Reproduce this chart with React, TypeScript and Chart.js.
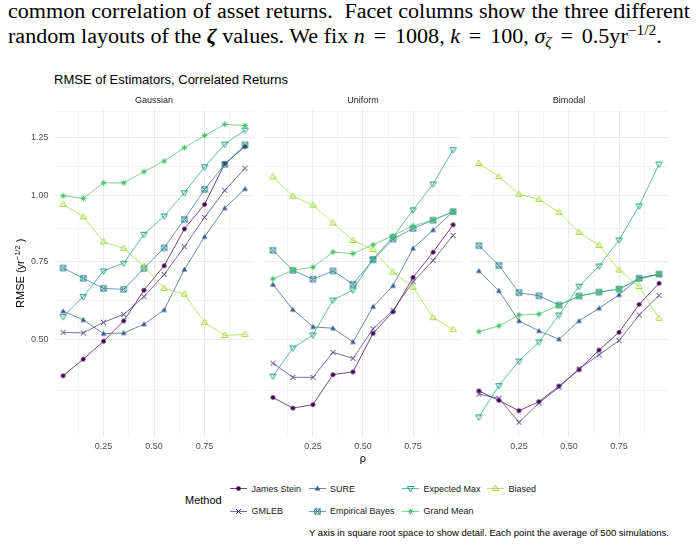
import React, { useEffect, useRef } from 'react';
import { Chart, registerables } from 'chart.js';

Chart.register(...registerables);

// ---------- data ----------
const RHO = [0.05, 0.15, 0.25, 0.35, 0.45, 0.55, 0.65, 0.75, 0.85, 0.95];
const FACETS = ['Gaussian', 'Uniform', 'Bimodal'];
const METHODS = ['James Stein', 'GMLEB', 'SURE', 'Empirical Bayes', 'Expected Max', 'Grand Mean', 'Biased'];
const METHOD_COLORS = ['#440154', '#46337E', '#365C8D', '#277F8E', '#1FA187', '#4AC16D', '#A0DA39'];
const METHOD_SHAPES = ['dot', 'x', 'triFill', 'boxX', 'triDown', 'asterisk', 'triUp'];

// Gaussian layout
const GAUSS_JAMES_STEIN = [0.401, 0.445, 0.495, 0.555, 0.652, 0.735, 0.869, 0.965, 1.135, 1.210];
const GAUSS_GMLEB = [0.521, 0.519, 0.551, 0.575, 0.631, 0.705, 0.803, 0.914, 1.022, 1.115];
const GAUSS_SURE = [0.585, 0.558, 0.517, 0.519, 0.545, 0.589, 0.722, 0.840, 0.950, 1.028];
const GAUSS_EMP_BAYES = [0.727, 0.692, 0.658, 0.655, 0.726, 0.799, 0.906, 1.026, 1.132, 1.218];
const GAUSS_EXP_MAX = [0.568, 0.631, 0.717, 0.744, 0.849, 0.919, 1.012, 1.121, 1.221, 1.285];
const GAUSS_GRAND_MEAN = [1.000, 0.989, 1.053, 1.053, 1.100, 1.146, 1.205, 1.260, 1.312, 1.306];
const GAUSS_BIASED = [0.965, 0.916, 0.821, 0.797, 0.733, 0.658, 0.639, 0.550, 0.512, 0.515];

// Uniform layout
const UNIF_JAMES_STEIN = [0.347, 0.322, 0.330, 0.404, 0.411, 0.518, 0.583, 0.695, 0.783, 0.885];
const UNIF_GMLEB = [0.434, 0.397, 0.397, 0.464, 0.447, 0.531, 0.588, 0.680, 0.754, 0.845];
const UNIF_SURE = [0.671, 0.590, 0.537, 0.533, 0.493, 0.599, 0.667, 0.797, 0.865, 0.936];
const UNIF_EMP_BAYES = [0.790, 0.719, 0.689, 0.717, 0.672, 0.756, 0.831, 0.871, 0.903, 0.936];
const UNIF_EXP_MAX = [0.400, 0.476, 0.513, 0.620, 0.653, 0.759, 0.839, 0.943, 1.048, 1.196];
const UNIF_GRAND_MEAN = [0.690, 0.719, 0.730, 0.784, 0.778, 0.810, 0.844, 0.881, 0.903, 0.936];
const UNIF_BIASED = [1.078, 0.998, 0.962, 0.892, 0.826, 0.793, 0.713, 0.662, 0.565, 0.529];

// Bimodal layout
const BIMO_JAMES_STEIN = [0.363, 0.340, 0.316, 0.337, 0.375, 0.417, 0.470, 0.521, 0.606, 0.675];
const BIMO_GMLEB = [0.355, 0.345, 0.290, 0.334, 0.372, 0.419, 0.457, 0.497, 0.573, 0.635];
const BIMO_SURE = [0.717, 0.650, 0.555, 0.525, 0.501, 0.555, 0.594, 0.637, 0.692, 0.706];
const BIMO_EMP_BAYES = [0.807, 0.736, 0.644, 0.634, 0.604, 0.633, 0.646, 0.656, 0.692, 0.706];
const BIMO_EXP_MAX = [0.302, 0.376, 0.440, 0.493, 0.573, 0.665, 0.734, 0.828, 0.959, 1.133];
const BIMO_GRAND_MEAN = [0.523, 0.540, 0.573, 0.576, 0.604, 0.633, 0.646, 0.656, 0.688, 0.706];
const BIMO_BIASED = [1.136, 1.079, 1.006, 0.985, 0.934, 0.856, 0.808, 0.720, 0.664, 0.563];

const FACET_VALUES = [
  [GAUSS_JAMES_STEIN, GAUSS_GMLEB, GAUSS_SURE, GAUSS_EMP_BAYES, GAUSS_EXP_MAX, GAUSS_GRAND_MEAN, GAUSS_BIASED],
  [UNIF_JAMES_STEIN, UNIF_GMLEB, UNIF_SURE, UNIF_EMP_BAYES, UNIF_EXP_MAX, UNIF_GRAND_MEAN, UNIF_BIASED],
  [BIMO_JAMES_STEIN, BIMO_GMLEB, BIMO_SURE, BIMO_EMP_BAYES, BIMO_EXP_MAX, BIMO_GRAND_MEAN, BIMO_BIASED],
];

// axis breaks
const X_BREAKS = [0.125, 0.25, 0.375, 0.5, 0.625, 0.75, 0.875];
const X_LABELS = ['', '0.25', '', '0.50', '', '0.75', ''];
const Y_MAJOR_BREAKS = [0.25, 0.5, 0.75, 1.0, 1.25, 1.5];

// ---------- scale helpers (y drawn in square-root space) ----------
const allSqrt = FACET_VALUES.flat(2).map(Math.sqrt);
const sLo = Math.min(...allSqrt);
const sHi = Math.max(...allSqrt);
const Y_MIN = sLo - (sHi - sLo) * 0.05;
const Y_MAX = sHi + (sHi - sLo) * 0.05;
const X_MIN = RHO[0] - (RHO[RHO.length - 1] - RHO[0]) * 0.05;
const X_MAX = RHO[RHO.length - 1] + (RHO[RHO.length - 1] - RHO[0]) * 0.05;

type YTick = { value: number; major: boolean; label: string };
const Y_TICKS: YTick[] = (() => {
  const majors = Y_MAJOR_BREAKS.map(Math.sqrt);
  const out: YTick[] = [];
  majors.forEach((m, i) => {
    out.push({ value: m, major: true, label: Y_MAJOR_BREAKS[i].toFixed(2) });
    if (i < majors.length - 1) out.push({ value: (m + majors[i + 1]) / 2, major: false, label: '' });
  });
  return out.filter((t) => t.value >= Y_MIN && t.value <= Y_MAX);
})();

const FONT = '"Liberation Sans", Arial, Helvetica, sans-serif';
const GRID = '#EBEBEB';

function withAlpha(hex: string, a: number) {
  const n = parseInt(hex.slice(1), 16);
  return `rgba(${(n >> 16) & 255},${(n >> 8) & 255},${n & 255},${a})`;
}

function makeMarker(shape: string, color: string): HTMLCanvasElement {
  const size = 11;
  const c = document.createElement('canvas');
  c.width = size;
  c.height = size;
  const g = c.getContext('2d')!;
  const m = size / 2;
  g.strokeStyle = color;
  g.fillStyle = color;
  g.lineWidth = 1;
  g.lineJoin = 'miter';
  const line = (x1: number, y1: number, x2: number, y2: number) => {
    g.beginPath();
    g.moveTo(x1, y1);
    g.lineTo(x2, y2);
    g.stroke();
  };
  if (shape === 'dot') {
    g.beginPath();
    g.arc(m, m, 2.3, 0, Math.PI * 2);
    g.fill();
  } else if (shape === 'x') {
    const r = 2.5;
    line(m - r, m - r, m + r, m + r);
    line(m - r, m + r, m + r, m - r);
  } else if (shape === 'triFill') {
    g.beginPath();
    g.moveTo(m, m - 3);
    g.lineTo(m + 2.8, m + 1.9);
    g.lineTo(m - 2.8, m + 1.9);
    g.closePath();
    g.fill();
  } else if (shape === 'boxX') {
    const r = 2.6;
    g.strokeRect(m - r, m - r, 2 * r, 2 * r);
    line(m - r, m - r, m + r, m + r);
    line(m - r, m + r, m + r, m - r);
  } else if (shape === 'triDown') {
    g.beginPath();
    g.moveTo(m - 3.2, m - 2);
    g.lineTo(m + 3.2, m - 2);
    g.lineTo(m, m + 3.4);
    g.closePath();
    g.stroke();
  } else if (shape === 'asterisk') {
    const r = 2.9;
    const d = 2.1;
    line(m - r, m, m + r, m);
    line(m, m - r, m, m + r);
    line(m - d, m - d, m + d, m + d);
    line(m - d, m + d, m + d, m - d);
  } else if (shape === 'triUp') {
    g.beginPath();
    g.moveTo(m, m - 3.4);
    g.lineTo(m + 3.2, m + 2);
    g.lineTo(m - 3.2, m + 2);
    g.closePath();
    g.stroke();
  }
  return c;
}

// strip labels and axis titles drawn around each panel
const panelText = {
  id: 'panelText',
  afterDraw(chart: any, _args: any, opts: any) {
    const { ctx, chartArea } = chart;
    ctx.save();
    ctx.textAlign = 'center';
    ctx.textBaseline = 'middle';
    ctx.fillStyle = '#1A1A1A';
    ctx.font = `9px ${FONT}`;
    ctx.fillText(opts.strip, (chartArea.left + chartArea.right) / 2, chartArea.top - 8.4);
    if (opts.xTitle) {
      ctx.font = `11px ${FONT}`;
      ctx.fillStyle = '#000';
      ctx.fillText(opts.xTitle, (chartArea.left + chartArea.right) / 2, chartArea.bottom + 22);
    }
    if (opts.yTitle) {
      ctx.translate(20, (chartArea.top + chartArea.bottom) / 2);
      ctx.rotate(-Math.PI / 2);
      ctx.textAlign = 'left';
      ctx.textBaseline = 'alphabetic';
      ctx.fillStyle = '#000';
      const a = 'RMSE (yr';
      const sup = '\u22121/2';
      const b = ' )';
      ctx.font = `11px ${FONT}`;
      const wa = ctx.measureText(a).width;
      const wb = ctx.measureText(b).width;
      ctx.font = `7.5px ${FONT}`;
      const ws = ctx.measureText(sup).width;
      let x = -(wa + ws + wb) / 2;
      const base = 4;
      ctx.font = `11px ${FONT}`;
      ctx.fillText(a, x, base);
      x += wa;
      ctx.font = `7.5px ${FONT}`;
      ctx.fillText(sup, x, base - 4.5);
      x += ws;
      ctx.font = `11px ${FONT}`;
      ctx.fillText(b, x, base);
    }
    ctx.restore();
  },
};

const CANVAS_TOP = 92;
const CANVAS_H = 375;
const STRIP_H = 17.4;
const X_AXIS_H = 29.8;
const PANELS = [
  { left: 0, width: 258, yAxisW: 54, padL: 0, padR: 2 },
  { left: 260, width: 206, yAxisW: 0, padL: 2, padR: 2 },
  { left: 466, width: 206, yAxisW: 0, padL: 2, padR: 2 },
];

function FacetPanel({ index }: { index: number }) {
  const ref = useRef<HTMLCanvasElement>(null);
  useEffect(() => {
    const p = PANELS[index];
    const datasets = METHODS.map((name, i) => ({
      label: name,
      data: RHO.map((r, k) => ({ x: r, y: Math.sqrt(FACET_VALUES[index][i][k]) })),
      borderColor: withAlpha(METHOD_COLORS[i], 0.8),
      borderWidth: 0.9,
      pointStyle: makeMarker(METHOD_SHAPES[i], METHOD_COLORS[i]),
      pointRadius: 3,
      pointHoverRadius: 3,
      tension: 0,
      fill: false,
      order: METHODS.length - i,
    }));
    const chart = new Chart(ref.current!, {
      type: 'line',
      data: { datasets },
      plugins: [panelText],
      options: {
        animation: false,
        responsive: false,
        devicePixelRatio: 1,
        events: [],
        layout: { padding: { top: STRIP_H, left: p.padL, right: p.padR, bottom: 0 } },
        plugins: {
          legend: { display: false },
          tooltip: { enabled: false },
          title: { display: false },
          panelText: {
            strip: FACETS[index],
            xTitle: index === 1 ? '\u03C1' : '',
            yTitle: index === 0,
          },
        } as any,
        scales: {
          x: {
            type: 'linear',
            min: X_MIN,
            max: X_MAX,
            afterBuildTicks: (s: any) => {
              s.ticks = X_BREAKS.map((v) => ({ value: v }));
            },
            afterFit: (s: any) => {
              s.height = X_AXIS_H;
            },
            ticks: {
              autoSkip: false,
              maxRotation: 0,
              padding: 3.5,
              color: '#4D4D4D',
              font: { family: FONT, size: 9 },
              callback: (_v: any, i: number) => X_LABELS[i],
            },
            grid: {
              color: GRID,
              drawTicks: false,
              lineWidth: (c: any) => (X_LABELS[c.index] ? 1.1 : 0.55),
            },
            border: { display: false },
          },
          y: {
            type: 'linear',
            min: Y_MIN,
            max: Y_MAX,
            afterBuildTicks: (s: any) => {
              s.ticks = Y_TICKS.map((t) => ({ value: t.value }));
            },
            afterFit: (s: any) => {
              s.width = p.yAxisW;
            },
            ticks: {
              display: index === 0,
              autoSkip: false,
              padding: 5.5,
              color: '#4D4D4D',
              font: { family: FONT, size: 9 },
              callback: (_v: any, i: number) => Y_TICKS[i].label,
            },
            grid: {
              color: GRID,
              drawTicks: false,
              lineWidth: (c: any) => (Y_TICKS[c.index] && Y_TICKS[c.index].major ? 1.1 : 0.55),
            },
            border: { display: false },
          },
        },
      } as any,
    });
    return () => chart.destroy();
  }, [index]);
  const p = PANELS[index];
  return (
    <canvas
      ref={ref}
      width={p.width}
      height={CANVAS_H}
      style={{ position: 'absolute', left: p.left, top: CANVAS_TOP, width: p.width, height: CANVAS_H }}
    />
  );
}

// legend layout: column-major, two rows
const LEGEND_KEY_X = [229.5, 308.5, 402, 487];
const LEGEND_TEXT_X = [251.5, 330, 423.5, 508.5];
const LEGEND_ROW_Y = [488.5, 511];

function LegendKey({ i }: { i: number }) {
  const ref = useRef<HTMLCanvasElement>(null);
  useEffect(() => {
    const g = ref.current!.getContext('2d')!;
    g.clearRect(0, 0, 17, 11);
    g.strokeStyle = withAlpha(METHOD_COLORS[i], 0.8);
    g.lineWidth = 0.9;
    g.beginPath();
    g.moveTo(0, 5.5);
    g.lineTo(17, 5.5);
    g.stroke();
    g.drawImage(makeMarker(METHOD_SHAPES[i], METHOD_COLORS[i]), 3, 0);
  }, [i]);
  const col = Math.floor(i / 2);
  const row = i % 2;
  return (
    <>
      <canvas
        ref={ref}
        width={17}
        height={11}
        style={{ position: 'absolute', left: LEGEND_KEY_X[col], top: LEGEND_ROW_Y[row] - 5.5 }}
      />
      <div
        style={{
          position: 'absolute',
          left: LEGEND_TEXT_X[col],
          top: LEGEND_ROW_Y[row] - 6,
          font: `9px ${FONT}`,
          lineHeight: '12px',
          color: '#1A1A1A',
          whiteSpace: 'nowrap',
        }}
      >
        {METHODS[i]}
      </div>
    </>
  );
}

// paragraph text set in a serif face, stretched a little to the width of a TeX line
const TEXT_STRETCH = 1.105;

export default function App() {
  const small = { fontSize: 14, lineHeight: 0 } as React.CSSProperties;
  const eq = { margin: '0 3px' } as React.CSSProperties;
  return (
    <div
      style={{
        position: 'absolute',
        left: 0,
        top: 0,
        width: 698,
        height: 545,
        background: '#fff',
        overflow: 'hidden',
      }}
    >
      <div
        style={{
          position: 'absolute',
          left: 8,
          top: -1.3,
          width: 682 / TEXT_STRETCH,
          transform: `scaleX(${TEXT_STRETCH})`,
          transformOrigin: '0 0',
          fontFamily: '"Liberation Serif", "Times New Roman", serif',
          fontSize: 20,
          lineHeight: '25px',
          color: '#000',
        }}
      >
        <div style={{ textAlign: 'justify', textAlignLast: 'justify', whiteSpace: 'nowrap' }}>
          common correlation of asset returns.&nbsp; Facet columns show the three different
        </div>
        <div style={{ whiteSpace: 'nowrap' }}>
          random layouts of the <b><i>ζ</i></b> values. We fix <i>n</i>
          <span style={eq}> = </span>1008, <i>k</i>
          <span style={eq}> = </span>100, <i>σ</i>
          <sub style={{ ...small, verticalAlign: '-4px' }}>
            <i>ζ</i>
          </sub>
          <span style={eq}> = </span>0.5yr<sup style={{ ...small, verticalAlign: '8px' }}>−1/2</sup>.
        </div>
      </div>

      <div
        style={{
          position: 'absolute',
          left: 54,
          top: 72,
          font: `13px ${FONT}`,
          lineHeight: '16px',
          color: '#000',
          whiteSpace: 'nowrap',
        }}
      >
        RMSE of Estimators, Correlated Returns
      </div>

      {FACETS.map((_, i) => (
        <FacetPanel key={i} index={i} />
      ))}

      <div
        style={{
          position: 'absolute',
          left: 185,
          top: 493,
          font: `11px ${FONT}`,
          lineHeight: '14px',
          color: '#000',
        }}
      >
        Method
      </div>
      {METHODS.map((_, i) => (
        <LegendKey key={i} i={i} />
      ))}

      <div
        style={{
          position: 'absolute',
          right: 698 - 669,
          top: 527,
          font: `9.5px ${FONT}`,
          lineHeight: '12px',
          color: '#000',
          whiteSpace: 'nowrap',
        }}
      >
        Y axis in square root space to show detail. Each point the average of 500 simulations.
      </div>
    </div>
  );
}
